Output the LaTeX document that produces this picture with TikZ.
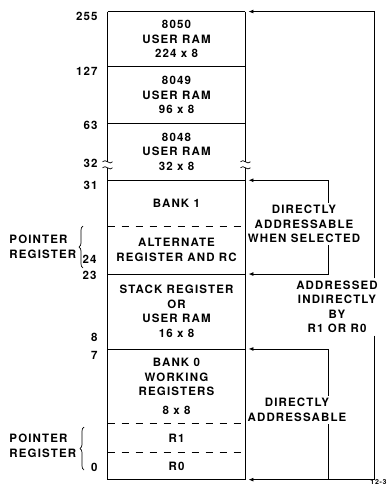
\documentclass[tikz,border=0pt]{standalone}
\usepackage{fontspec}
\setmainfont{TeX Gyre Heros}[LetterSpace=10]
\usetikzlibrary{positioning, arrows.meta, decorations.pathreplacing}

\begin{document}
\begin{tikzpicture}[x=1pt, y=-1pt, line width=0.9pt,
    every node/.style={font=\fontsize{11.5}{14.5}\selectfont\bfseries},
    sect/.style={minimum width=137pt, inner sep=0pt, align=center},
    num/.style={anchor=east, inner sep=0pt},
    arr/.style={-{Latex[length=5pt, width=4pt]}, shorten >=3pt}]
    % Limites
    \useasboundingbox (0,0) rectangle (388,492);

    % Bloques de memoria
    \node[sect, minimum height=54pt] (u50) at (176.5,39) {8050\\USER RAM\\224 x 8};
    \node[sect, minimum height=56pt, below=0pt of u50] (u49) {8049\\USER RAM\\96 x 8};
    \node[sect, minimum height=56pt, below=0pt of u49] (u48) {8048\\USER RAM\\32 x 8};
    \node[sect, minimum height=45pt, below=0pt of u48] (bank1) {BANK 1};
    \node[sect, minimum height=47pt, below=0pt of bank1] (alt) {ALTERNATE\\REGISTER AND RC};
    \node[sect, minimum height=74pt, below=0pt of alt] (stack) {STACK REGISTER\\OR\\USER RAM\\16 x 8};
    \node[sect, minimum height=74pt, below=0pt of stack] (bank0) {BANK 0\\WORKING\\REGISTERS\\[4pt]8 x 8};
    \node[sect, minimum height=28pt, below=0pt of bank0] (r1) {R1};
    \node[sect, minimum height=26pt, below=0pt of r1] (r0) {R0};

    % Contorno
    \draw (u50.north west) -- (u50.north east);
    \foreach \n in {u50,u49,u48,alt,stack,r0}
        \draw (\n.south west) -- (\n.south east);
    \foreach \n in {bank1,bank0,r1}
        \draw[dash pattern=on 7pt off 7pt] (\n.south west) -- (\n.south east);

    % Corte en 32
    \coordinate (cutL) at ([yshift=-13pt]u48.west);
    \coordinate (cutR) at ([yshift=-13pt]u48.east);
    \draw (u50.north west) -- ([yshift=3pt]cutL);
    \draw ([yshift=-3pt]cutL) -- (r0.south west);
    \draw (u50.north east) -- ([yshift=3pt]cutR);
    \draw ([yshift=-3pt]cutR) -- (r0.south east);
    \foreach \c in {cutL,cutR}
        \foreach \s in {3pt,-3pt}
            \draw[line width=0.7pt] ([shift={(-5pt,\s)}]\c) .. controls +(3pt,4pt) and +(-3pt,-4pt) .. ([shift={(5pt,\s)}]\c);

    % Direcciones
    \foreach \v/\y in {255/16,127/71,63/125,32/163,31/185,8/337,7/355,0/467}
        \node[num] (n\v) at (98,\y) {\v};
    \node[num] (n24) at (97,259) {24};
    \node[num] (n23) at (97,275) {23};

    % Llaves
    \coordinate (b1t) at (83,226);
    \coordinate (b1b) at (83,268);
    \coordinate (b2t) at (84,427);
    \coordinate (b2b) at (84,470);
    \draw[line width=0.7pt, decorate, decoration={brace, amplitude=4pt}] (b1b) -- (b1t);
    \draw[line width=0.7pt, decorate, decoration={brace, amplitude=4pt}] (b2b) -- (b2t);
    \node[anchor=west, align=left, inner sep=0pt] (pr1) at (9,247) {POINTER\\REGISTER};
    \node[anchor=west, align=left, inner sep=0pt] (pr0) at (9,446) {POINTER\\REGISTER};

    % Textos de la derecha
    \node[align=center, inner sep=2pt] (dsel) at (304,224) {DIRECTLY\\ADDRESSABLE\\WHEN SELECTED};
    \node[align=center, inner sep=2pt] (ind) at (337,307) {ADDRESSED\\INDIRECTLY\\BY\\R1 OR R0};
    \node[align=center, inner sep=2pt] (dir) at (297,410) {DIRECTLY\\ADDRESSABLE};
    \coordinate (oX) at (374,0);
    \coordinate (iX) at (328,0);

    % Flechas
    \draw[arr] (ind.north -| oX) |- (u50.north east);
    \draw[arr] (ind.south -| oX) |- (r0.south east);
    \draw[arr] (dsel.north -| iX) |- (bank1.north east);
    \draw[arr] (dsel.south -| iX) |- (alt.south east);
    \draw[arr] (dir.north -| iX) |- (bank0.north east);
    \draw (dir.south -| iX) -- (iX |- r0.south);

    \node[anchor=east, inner sep=0pt, font=\fontsize{7}{8}\selectfont\bfseries] (fig) at (387,482) {12-3};
\end{tikzpicture}
\end{document}
